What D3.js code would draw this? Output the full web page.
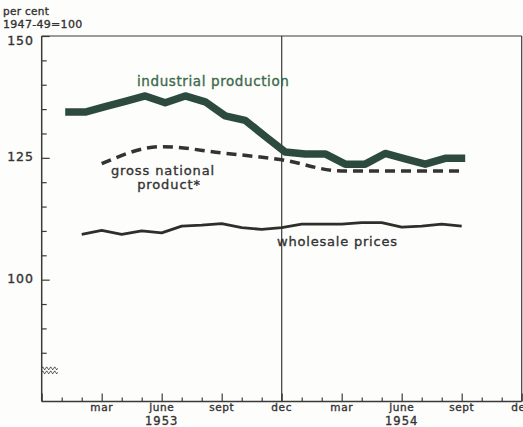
<!DOCTYPE html>
<html>
<head>
<meta charset="utf-8">
<script src="https://cdn.jsdelivr.net/npm/d3@7"></script>
<style>
  html, body { margin: 0; padding: 0; background: #fdfdfb; }
  svg { display: block; }
  text { font-family: "DejaVu Sans", sans-serif; stroke-width: 0.35px; }
</style>
</head>
<body>
<svg id="chart" width="523" height="427"></svg>
<script>
// Month index: 0 = Dec 1952, 1 = Jan 1953, ..., 12 = Dec 1953, 24 = Dec 1954
const industrialMonths = [1,2,3,4,5,6,7,8,9,10,11,12,13,14,15,16,17,18,19,20,21];
const industrialValues = [134.4,134.4,135.5,136.6,137.7,136.3,137.7,136.5,133.6,132.7,129.4,126.2,125.8,125.8,123.7,123.7,125.9,124.8,123.7,124.9,124.9];

const gnpMonths = [3,6,9,12,15,18,21];
const gnpValues = [123.8,127.3,126.0,124.6,122.3,122.3,122.3];

const wholesaleMonths = [2,3,4,5,6,7,8,9,10,11,12,13,14,15,16,17,18,19,20,21];
const wholesaleValues = [109.3,110.1,109.3,110.0,109.6,111.0,111.2,111.5,110.7,110.3,110.7,111.4,111.4,111.4,111.7,111.7,110.8,111.0,111.4,111.0];

const monthTickLabels = [
  {m: 3, label: "mar"}, {m: 6, label: "june"}, {m: 9, label: "sept"}, {m: 12, label: "dec"},
  {m: 15, label: "mar"}, {m: 18, label: "june"}, {m: 21, label: "sept"}, {m: 24, label: "dec"}
];
const yearLabels = [{m: 6, label: "1953"}, {m: 18, label: "1954"}];
const yTickValues = [85,90,95,100,105,110,115,120,125,130,135,140,145,150];
const yLabelValues = [100,125,150];

const svg = d3.select("#chart");
const x = d3.scaleLinear().domain([0, 24]).range([41.7, 521.7]);
const y = d3.scaleLinear().domain([75, 150]).range([401.5, 36]);
const axisColor = "#3a3a36";
const textColor = "#333";

// frame
svg.append("line").attr("x1", x(0)).attr("x2", x(24)).attr("y1", y(150)).attr("y2", y(150))
  .attr("stroke", axisColor).attr("stroke-width", 1.2);
svg.append("line").attr("x1", x(24)).attr("x2", x(24)).attr("y1", y(150)).attr("y2", y(75))
  .attr("stroke", axisColor).attr("stroke-width", 1.2);
// year divider
svg.append("line").attr("x1", x(12)).attr("x2", x(12)).attr("y1", y(150)).attr("y2", y(75))
  .attr("stroke", axisColor).attr("stroke-width", 1.2);

// y axis
const yAxis = d3.axisRight(y).tickValues(yTickValues).tickSize(0).tickFormat("");
const yg = svg.append("g").attr("transform", `translate(${x(0)},0)`).call(yAxis);
yg.select(".domain").remove();
svg.append("line").attr("x1", x(0)).attr("x2", x(0)).attr("y1", y(150)).attr("y2", y(75))
  .attr("stroke", axisColor).attr("stroke-width", 1.5);
yg.selectAll(".tick").append("line")
  .attr("x1", 0).attr("x2", d => yLabelValues.includes(d) ? 8 : 5)
  .attr("stroke", axisColor).attr("stroke-width", 1.2);
svg.selectAll(".ylab").data(yLabelValues).enter().append("text")
  .attr("x", 34).attr("y", d => Math.max(y(d), 41))
  .attr("text-anchor", "end").attr("dominant-baseline", "middle")
  .attr("font-size", 12.5).attr("letter-spacing", 1).attr("fill", textColor).attr("stroke", textColor)
  .text(d => d);

// axis break
const breakY = y(81.8);
[0, 4].forEach(off => {
  const p = d3.path();
  p.moveTo(x(0), breakY + off);
  for (let i = 0; i < 4; i++) {
    const sx = x(0) + i * 4;
    p.quadraticCurveTo(sx + 1, breakY + off - 3, sx + 2, breakY + off);
    p.quadraticCurveTo(sx + 3, breakY + off + 3, sx + 4, breakY + off);
  }
  svg.append("path").attr("d", p.toString()).attr("fill", "none")
    .attr("stroke", axisColor).attr("stroke-width", 0.9);
});

// x axis
const xAxis = d3.axisTop(x).tickValues(d3.range(0, 25)).tickSize(0).tickFormat("");
const xg = svg.append("g").attr("transform", `translate(0,${y(75)})`).call(xAxis);
xg.select(".domain").remove();
svg.append("line").attr("x1", x(0)).attr("x2", x(24)).attr("y1", y(75)).attr("y2", y(75))
  .attr("stroke", axisColor).attr("stroke-width", 1.5);
xg.selectAll(".tick").append("line")
  .attr("y1", 0).attr("y2", d => d % 3 === 0 ? -8 : -4)
  .attr("stroke", axisColor).attr("stroke-width", 1.2);

svg.selectAll(".mlab").data(monthTickLabels).enter().append("text")
  .attr("x", d => x(d.m)).attr("y", 410.5)
  .attr("text-anchor", "middle").attr("font-size", 10.5).attr("letter-spacing", 0.6)
  .attr("fill", textColor).attr("stroke", textColor).text(d => d.label);
svg.selectAll(".yrlab").data(yearLabels).enter().append("text")
  .attr("x", d => x(d.m)).attr("y", 424.5)
  .attr("text-anchor", "middle").attr("font-size", 11.5).attr("letter-spacing", 1)
  .attr("fill", textColor).attr("stroke", textColor).text(d => d.label);

// unit labels
svg.append("text").attr("x", 3).attr("y", 15).attr("font-size", 10.5).attr("letter-spacing", 0.3)
  .attr("fill", textColor).attr("stroke", textColor).text("per cent");
svg.append("text").attr("x", 3).attr("y", 28).attr("font-size", 11).attr("letter-spacing", 0.3)
  .attr("fill", textColor).attr("stroke", textColor).text("1947-49=100");

// series
const indOffset = 3.5;
const indLine = d3.line().x(d => x(d[0]) + indOffset).y(d => y(d[1]));
svg.append("path").datum(d3.zip(industrialMonths, industrialValues))
  .attr("d", indLine).attr("fill", "none").attr("stroke", "#2c4a40")
  .attr("stroke-width", 7.5).attr("stroke-linejoin", "round");

const gnpLine = d3.line().x(d => x(d[0])).y(d => y(d[1])).curve(d3.curveMonotoneX);
svg.append("path").datum(d3.zip(gnpMonths, gnpValues))
  .attr("d", gnpLine).attr("fill", "none").attr("stroke", "#333")
  .attr("stroke-width", 3.5).attr("stroke-dasharray", "10,6");

const whLine = d3.line().x(d => x(d[0])).y(d => y(d[1]));
svg.append("path").datum(d3.zip(wholesaleMonths, wholesaleValues))
  .attr("d", whLine).attr("fill", "none").attr("stroke", "#2e2e2b")
  .attr("stroke-width", 2.8).attr("stroke-linejoin", "round");

// series labels
svg.append("text").attr("x", 137).attr("y", 85.5).attr("font-size", 13.5).attr("letter-spacing", 0.6)
  .attr("fill", "#3d6a4c").attr("stroke", "#3d6a4c").text("industrial production");
svg.append("text").attr("x", 163).attr("y", 175).attr("text-anchor", "middle")
  .attr("font-size", 13).attr("letter-spacing", 0.9).attr("fill", textColor).attr("stroke", textColor).text("gross national");
svg.append("text").attr("x", 169).attr("y", 189).attr("text-anchor", "middle")
  .attr("font-size", 13).attr("letter-spacing", 0.9).attr("fill", textColor).attr("stroke", textColor).text("product*");
svg.append("text").attr("x", 277).attr("y", 246).attr("font-size", 13).attr("letter-spacing", 0.8)
  .attr("fill", textColor).attr("stroke", textColor).text("wholesale prices");
</script>
</body>
</html>
